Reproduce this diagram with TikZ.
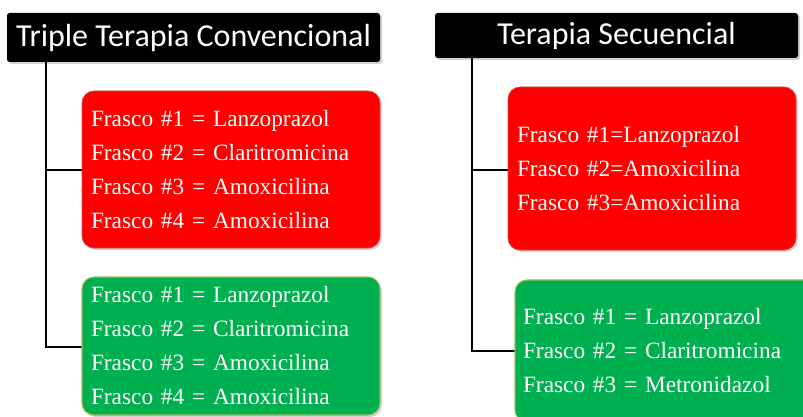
\documentclass[tikz,border=0pt]{standalone}
\usepackage{fontspec}
\setmainfont{Liberation Serif}
\newfontfamily\calibri{Carlito}
\usetikzlibrary{shadows}
\definecolor{bred}{HTML}{FF0000}
\definecolor{bredline}{HTML}{C0504D}
\definecolor{bgreen}{HTML}{00B050}
\definecolor{bgreenline}{HTML}{9BBB59}
\tikzset{
  hdr/.style={fill=black, rounded corners=2pt, text=white, font=\calibri\fontsize{24}{28}\selectfont,
    inner sep=0pt, drop shadow={opacity=0.35, shadow xshift=1.5pt, shadow yshift=-1.5pt}},
  listbox/.style={rounded corners=9pt, text=white, font=\fontsize{17.5}{25.5}\selectfont,
    align=left, inner ysep=0pt, inner xsep=6.75pt, anchor=center,
    drop shadow={opacity=0.35, shadow xshift=1.5pt, shadow yshift=-1.5pt}},
  redbox/.style={listbox, fill=bred, draw=bredline, line width=0.6pt},
  greenbox/.style={listbox, fill=bgreen, draw=bgreenline, line width=0.8pt},
  conn/.style={draw=black, line width=1.3pt}
}
\begin{document}
\begin{tikzpicture}[x=0.75pt, y=-0.75pt]
\useasboundingbox (0,0) rectangle (803,417);
\clip (0,0) rectangle (803,417);
\fill[white] (0,0) rectangle (803,417);

\coordinate (t1) at (46,0);
\coordinate (t2) at (472,0);

\node[hdr, minimum width=279.75pt, minimum height=36.75pt] (h1) at (193.5,37.5) {Triple Terapia Convencional};
\node[hdr, minimum width=272.25pt, minimum height=33.75pt] (h2) at (616.5,35.5) {Terapia Secuencial};

% connectors (drawn before boxes)
\draw[conn] (h1.south -| t1) -- (t1 |- 0,347) -- (82,347);
\draw[conn] (t1 |- 0,170) -- (82,170);
\draw[conn] (h2.south -| t2) -- (t2 |- 0,351) -- (515,351);
\draw[conn] (t2 |- 0,170) -- (508,170);

\node[redbox, minimum width=223.5pt, minimum height=117.75pt, text width=210pt] (r1) at (231,169.5)
  {Frasco \#1 = Lanzoprazol\\Frasco \#2 = Claritromicina\\Frasco \#3 = Amoxicilina\\Frasco \#4 = Amoxicilina};
\node[greenbox, minimum width=223.5pt, minimum height=103.5pt, text width=210pt] (g1) at (231,346)
  {Frasco \#1 = Lanzoprazol\\Frasco \#2 = Claritromicina\\Frasco \#3 = Amoxicilina\\Frasco \#4 = Amoxicilina};
\node[redbox, minimum width=216pt, minimum height=122.25pt, text width=202.5pt] (r2) at (652,168.5)
  {Frasco \#1=Lanzoprazol\\Frasco \#2=Amoxicilina\\Frasco \#3=Amoxicilina};
\node[greenbox, minimum width=225pt, minimum height=106.5pt, text width=213pt, inner xsep=6pt] (g2) at (665,351)
  {Frasco \#1 = Lanzoprazol\\Frasco \#2 = Claritromicina\\Frasco \#3 = Metronidazol};
\end{tikzpicture}
\end{document}
